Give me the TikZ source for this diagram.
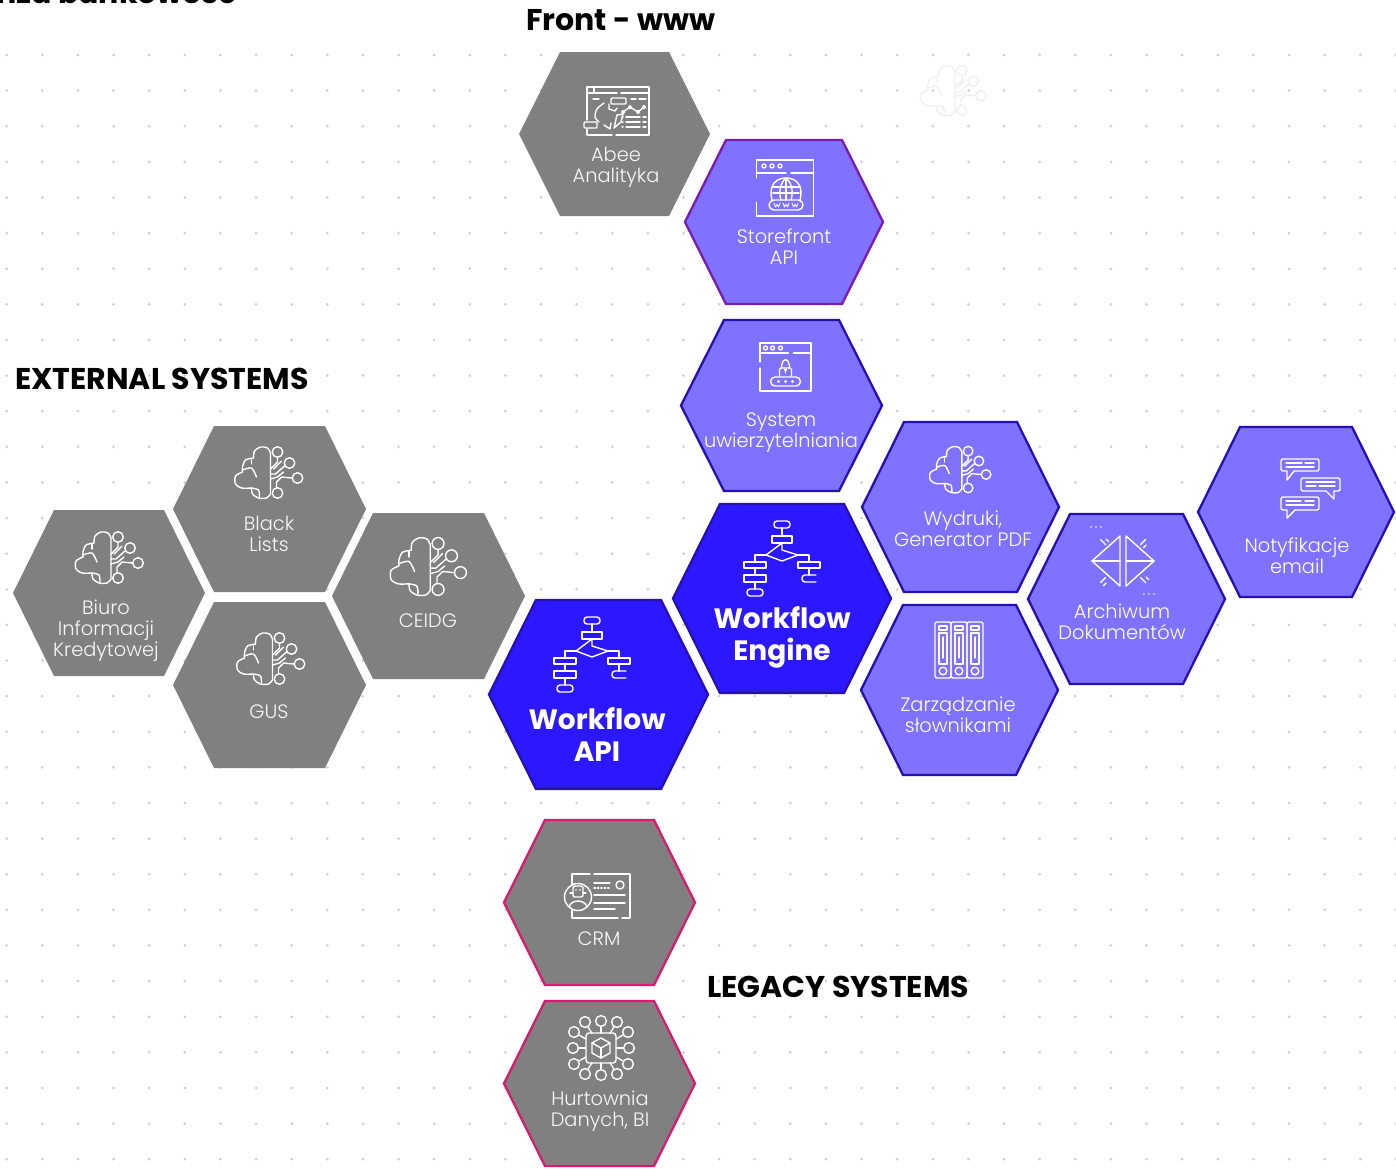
\documentclass[tikz,border=0pt]{standalone}
\usepackage{fontspec}
\setmainfont{Poppins}[UprightFont=* Light,BoldFont=* Bold]
\newfontfamily\headfont{Poppins}[UprightFont=* Bold]
\usepackage{tikz}
\usetikzlibrary{calc}
\definecolor{dotgray}{HTML}{CFCFCF}
\definecolor{cellgray}{HTML}{808080}
\definecolor{celllight}{HTML}{7F72FF}
\definecolor{cellblue}{HTML}{2B18FF}
\definecolor{edgeblue}{HTML}{2710B0}
\definecolor{edgepurple}{HTML}{7A1CB0}
\definecolor{edgepink}{HTML}{D81B70}
\tikzset{
	hexgrey/.style={fill=cellgray},
	hexpink/.style={fill=cellgray, draw=edgepink, line width=2.3pt},
	hexlight/.style={fill=celllight, draw=edgeblue, line width=2.3pt},
	hexpurple/.style={fill=celllight, draw=edgepurple, line width=2.3pt},
	hexblue/.style={fill=cellblue, draw=edgeblue, line width=2.3pt},
	iconline/.style={color=white, line width=1.4pt, line cap=round, line join=round},
	greytext/.style={text=white!97!black, align=center, font=\fontsize{19.4}{21}\selectfont},
	lighttext/.style={text=white, align=center, font=\fontsize{19.4}{21}\selectfont},
	bigtext/.style={text=white, align=center, font=\bfseries\fontsize{28}{32}\selectfont},
	headtext/.style={text=black, anchor=west, inner sep=0pt, font=\headfont\fontsize{30}{32}\selectfont},
	brainicon/.pic={
		\draw plot[smooth] coordinates {(2,-20) (-1,-25) (-8,-26) (-14,-22) (-15,-15)};
		\draw plot[smooth] coordinates {(-15,-15) (-23,-13) (-26,-6) (-26,-1)};
		\draw plot[smooth] coordinates {(-26,-1) (-33,3) (-33,11) (-27,15) (-17,15)};
		\draw plot[smooth] coordinates {(-17,15) (-16,21) (-10,25) (-2,25) (2,21)} -- (2,-20);
		\draw plot[smooth] coordinates {(-26,-3) (-17,-5) (-12,4)};
		\draw plot[smooth] coordinates {(-17,15) (-10,17) (-9,24)};
		\draw (-17,-14) -- (-17,-9);
		\draw (9,-21) circle[radius=5.3];
		\draw (21,-10) circle[radius=5.3];
		\draw (29,5) circle[radius=5.3];
		\draw (9,20) circle[radius=5.3];
		\draw (9,-15.5) -- (9,-11) -- (2,-4);
		\draw (16,-7) -- (7,1) -- (2,1);
		\draw (13,-12) -- (5,-4);
		\draw (23.5,5) -- (13,4) -- (8,9) -- (8,14.5);
		\draw (15,-1) -- (9,4) -- (2,6);
	},
	flowicon/.pic={
		\draw[rounded corners=3pt] (-8,-37) rectangle (8,-30);
		\draw (0,-30) -- (0,-22);
		\draw (-10,-22) rectangle (10,-15);
		\draw (0,-15) -- (0,-8) -- (16,-3) -- (0,3) -- (-16,-3) -- cycle;
		\draw (-16,-3) -- (-27,-3) -- (-27,4);
		\draw (16,-3) -- (27,-3) -- (27,4);
		\draw (-38,4) rectangle (-16,10);
		\draw (-27,10) -- (-27,17);
		\draw (-38,17) rectangle (-16,24);
		\draw (-27,24) -- (-27,31);
		\draw[rounded corners=3pt] (-35,31) rectangle (-19,38);
		\draw (16,4) rectangle (38,10);
		\draw (27,10) -- (27,17);
		\draw[rounded corners=3pt] (34,17) -- (20,17) -- (20,24) -- (34,24);
	},
	wwwicon/.pic={
		\draw (-28.5,-10) -- (-28.5,-28) -- (28.5,-28) -- (28.5,28) -- (-28.5,28) -- (-28.5,14);
		\draw (-28.5,-15) -- (1,-15);
		\draw (6,-15) -- (28.5,-15);
		\foreach \dotx in {-21,-13,-5}
			\draw (\dotx,-22) circle[radius=2];
		\draw (-13,12) .. controls (-17,-4) and (-8,-10) .. (1,-10) .. controls (10,-10) and (19,-4) .. (15,12);
		\draw (1,-10) .. controls (-6,-4) and (-6,6) .. (-4,12);
		\draw (1,-10) .. controls (8,-4) and (8,6) .. (6,12);
		\draw (1,-10) -- (1,12);
		\draw (-13,-1) -- (15,-1);
		\draw (-12,5) -- (14,5);
		\draw[rounded corners=5pt] (-16,12) rectangle (18,22);
		\foreach \dotx in {-8,1,10}
			\draw[line width=.9pt] ({\dotx-3},15) -- ({\dotx-1.5},19) -- (\dotx,16.5) -- ({\dotx+1.5},19) -- ({\dotx+3},15);
	},
	dashicon/.pic={
		\draw (-31,9) -- (-31,-24) -- (31,-24) -- (31,24) -- (-2,24);
		\draw (-6,24) -- (-31,24) -- (-31,18);
		\draw (-31,-18) -- (-1,-18);
		\draw (3,-18) -- (31,-18);
		\draw (-24,-24) -- (-24,-18);
		\draw (-25,-12) -- (-19,-12);
		\draw (13,-12) -- (18,-12);
		\draw (21,-12) -- (28,-12);
		\draw[rounded corners=1pt] (-7,-13) rectangle (8,-7);
		\draw[rounded corners=1pt] (-34,11) rectangle (-21,17);
		\draw plot[smooth] coordinates {(-14,-8) (-21,-2) (-23,6) (-19,11)};
		\draw (-9,-7) -- (-9,-2) -- (-3,0) -- (-1,-3);
		\draw (-14,14) -- (-8,18) -- (-7,12);
		\draw (-1,4) -- (5,3) -- (3,11) -- (-4,17) -- cycle;
		\draw (5,1) -- (12,-4) -- (20,1) -- (26,-4);
		\foreach \dotx/\doty in {5/1,12/-4,20/1,26/-4}
			\draw (\dotx,\doty) circle[radius=1.5];
		\foreach \rowy in {6,11,16} {
			\draw (4,\rowy) -- (5,\rowy);
			\draw (8,\rowy) -- (22,\rowy);
			\draw (25,\rowy) -- (28,\rowy);
		}
	},
	lockicon/.pic={
		\draw (-25.5,-5) -- (-25.5,-24) -- (25.5,-24) -- (25.5,24) -- (-25.5,24) -- (-25.5,1);
		\draw (-25.5,-14) -- (3,-14);
		\draw (8,-14) -- (25.5,-14);
		\foreach \dotx in {-20,-13,-5}
			\draw (\dotx,-19) circle[radius=2];
		\draw[rounded corners=1.5pt] (-6,9) -- (-6,1) -- (6,1) -- (6,9);
		\draw (-4,1) .. controls (-4,-10) and (4,-10) .. (4,1);
		\draw (0,3) -- (0,6);
		\draw (0,3) circle[radius=.8];
		\draw[rounded corners=4.5pt] (-15,10) rectangle (15,19);
		\foreach \dotx in {-7,0,7}
			\fill (\dotx,14.5) circle[radius=1.6];
	},
	foldericon/.pic={
		\foreach \binx in {-16,0,16} {
			\begin{scope}[shift={(\binx,0)}]
				\draw[rounded corners=2pt] (-8,-28) rectangle (8,28);
				\draw (-4,-24) rectangle (4,-20);
				\draw (-4,-17) rectangle (4,14);
				\draw (0,-13) -- (0,8);
				\draw (0,21) circle[radius=3.8];
			\end{scope}
		}
	},
	archiveicon/.pic={
		\draw (-3,-25) -- (-31,0) -- (-3,25) -- cycle;
		\draw (3,-25) -- (31,0) -- (3,25) -- cycle;
		\draw (-31,0) -- (-3,0);
		\draw (3,0) -- (31,0);
		\foreach \markx/\marky/\signx/\signy in {-20/-19/1/1,20/-19/-1/1,-20/19/-1/1,20/19/1/1} {
			\draw ({\markx-2.5*\signx},{\marky-2.5*\signy}) -- ({\markx+2.5*\signx},{\marky+2.5*\signy});
			\draw ({\markx+3*\signy},{\marky-3*\signx}) -- ({\markx+3*\signy+2.5*\signx},{\marky-3*\signx+2.5*\signy});
		}
		\foreach \dotx in {-32,-27,-22}
			\fill (\dotx,-34) circle[radius=.8];
		\foreach \dotx in {21,26,31}
			\fill (\dotx,33) circle[radius=.8];
	},
	chaticon/.pic={
		\draw[rounded corners=2pt] (-16,-17) -- (9,-17) -- (9,-29) -- (-29,-29) -- (-29,-17) -- (-23,-17);
		\draw (-23,-17) -- (-23,-8) -- (-16,-17);
		\draw[rounded corners=2pt] (16,3) -- (-9,3) -- (-9,-10) -- (30,-10) -- (30,3) -- (24,3);
		\draw (24,3) -- (24,11) -- (16,3);
		\draw[rounded corners=2pt] (-15,22) -- (9,22) -- (9,9) -- (-29,9) -- (-29,22) -- (-23,22);
		\draw (-23,22) -- (-23,30) -- (-15,22);
		\draw (-24,-25) -- (-8,-25); \draw (-5,-25) -- (4,-25);
		\draw (-24,-21) -- (4,-21);
		\draw (-4,-6) -- (25,-6);
		\draw (-4,-2) -- (6,-2); \draw (9,-2) -- (25,-2);
		\draw (-24,13) -- (-9,13); \draw (-5,13) -- (4,13);
		\draw (-24,17) -- (4,17);
	},
	crmicon/.pic={
		\draw (-25,-11) -- (-25,-22) -- (-7,-22);
		\draw (-3,-22) -- (33,-22) -- (33,22) -- (25,22);
		\draw (21,22) -- (-25,22) -- (-25,14);
		\draw (-19,1) circle[radius=13.5];
		\draw[rounded corners=2pt] (-24,-10) rectangle (-14,1);
		\draw (-27,-3) -- (-24,-3);
		\draw (-14,-3) -- (-11,-3);
		\draw (-28,11) .. controls (-26,3) and (-12,3) .. (-10,11);
		\draw (23,-11) circle[radius=4];
		\draw (-3,-13) -- (13,-13);
		\draw[dotted] (-3,-8) -- (13,-8);
		\draw (-3,-1) -- (28,-1);
		\draw (-3,7) -- (28,7);
		\draw (-3,13) -- (18,13);
		\fill (-21,-6) circle[radius=.8];
		\fill (-17,-6) circle[radius=.8];
	},
	cubeicon/.pic={
		\draw[rounded corners=3pt] (-15,-15) rectangle (15,15);
		\foreach \leafx/\leafy in {-16/-26,0/-27,16/-26,27/-16,28/0,27/16,16/26,0/27,-16/26,-27/16,-28/0,-27/-16} {
			\draw (\leafx,\leafy) circle[radius=5.4];
			\draw ({\leafx*.56},{\leafy*.56}) -- ({\leafx*.8},{\leafy*.8});
		}
		\draw (0,-10) -- (9,-5) -- (9,5) -- (0,10) -- (-9,5) -- (-9,-5) -- cycle;
		\draw (-9,-5) -- (0,0) -- (9,-5);
		\draw (0,0) -- (0,10);
	},
}
\newcommand{\hexcell}[6]{%
	\path[#1] (#2,{(#4+#5)/2}) -- ({#2+#6},#4) -- ({#3-#6},#4) -- (#3,{(#4+#5)/2}) -- ({#3-#6},#5) -- ({#2+#6},#5) -- cycle;
}

\begin{document}
\begin{tikzpicture}[x=1pt, y=-1pt]
	\useasboundingbox (0,0) rectangle (1396,1168);
	\clip (0,0) rectangle (1396,1168);
	\fill[white] (0,0) rectangle (1396,1168);
%	grid of dots
	\foreach \gridx in {0,...,39}
		\foreach \gridy in {0,...,31}
			\fill[dotgray] ({6.7+35.62*\gridx},{55+35.62*\gridy}) circle[radius=1.5];
%	front
	\hexcell{hexgrey}{519}{710}{52}{216}{41}
	\hexcell{hexpurple}{685}{883}{140}{304}{41}
%	external systems
	\hexcell{hexgrey}{13}{205}{510}{676}{41}
	\hexcell{hexgrey}{173}{366}{426}{592}{41}
	\hexcell{hexgrey}{173}{366}{602}{768}{41}
	\hexcell{hexgrey}{332}{525}{513}{679}{41}
%	workflow
	\hexcell{hexblue}{489}{708}{600}{789}{47}
	\hexcell{hexblue}{673}{891}{504}{693}{47}
%	services
	\hexcell{hexlight}{681}{882}{320}{491}{43}
	\hexcell{hexlight}{862}{1059}{422}{592}{42}
	\hexcell{hexlight}{861}{1058}{605}{775}{42}
	\hexcell{hexlight}{1028}{1225}{514}{684}{42}
	\hexcell{hexlight}{1198}{1394}{427}{597}{42}
%	legacy systems
	\hexcell{hexpink}{504}{695}{820}{985}{41}
	\hexcell{hexpink}{504}{695}{1001}{1166}{41}
%	icons
	\pic[iconline] at (618,111) {dashicon};
	\pic[iconline] at (785,188) {wwwicon};
	\pic[iconline] at (785.5,367) {lockicon};
	\pic[iconline, scale=.9] at (960,470) {brainicon};
	\pic[iconline] at (959,650) {foldericon};
	\pic[iconline] at (1123,561) {archiveicon};
	\pic[iconline] at (1310,488) {chaticon};
	\pic[iconline] at (782,558) {flowicon};
	\pic[iconline] at (592,654) {flowicon};
	\pic[iconline] at (109,558) {brainicon};
	\pic[iconline] at (268.5,473) {brainicon};
	\pic[iconline] at (270.5,659) {brainicon};
	\pic[iconline, scale=1.12] at (428,567) {brainicon};
	\pic[iconline] at (597,896) {crmicon};
	\pic[iconline] at (601,1048) {cubeicon};
	\pic[iconline, color=black!6, scale=.97] at (953,91) {brainicon};
%	labels
	\node[greytext] (abee) at (616,167) {Abee\\Analityka};
	\node[lighttext] (storefront) at (784,246.5) {Storefront\\API};
	\node[lighttext] (auth) at (781,433) {System\\uwierzytelniania};
	\node[lighttext] (prints) at (963,529) {Wydruki,\\Generator PDF};
	\node[lighttext] (dicts) at (958,715) {Zarządzanie\\słownikami};
	\node[lighttext] (archive) at (1122,622) {Archiwum\\Dokumentów};
	\node[lighttext] (notify) at (1297,556) {Notyfikacje\\email};
	\node[greytext] (black) at (269,534) {Black\\Lists};
	\node[greytext] (biuro) at (106,631) {Biuro\\Informacji\\Kredytowej};
	\node[greytext] (ceidg) at (428,621) {CEIDG};
	\node[greytext] (gus) at (269,712) {GUS};
	\node[greytext] (crm) at (599,939) {CRM};
	\node[greytext] (dwh) at (600,1111) {Hurtownia\\Danych, BI};
	\node[bigtext] (wfapi) at (597,735) {Workflow\\API};
	\node[bigtext] (wfengine) at (782,637) {Workflow\\Engine};
%	titles
	\node[headtext] (front) at (526,20) {Front - www};
	\node[headtext] (external) at (15,379) {EXTERNAL SYSTEMS};
	\node[headtext] (legacy) at (707,987) {LEGACY SYSTEMS};
	\node[headtext, anchor=base east] (branch) at (237,3) {Branża bankowość};
\end{tikzpicture}
\end{document}
